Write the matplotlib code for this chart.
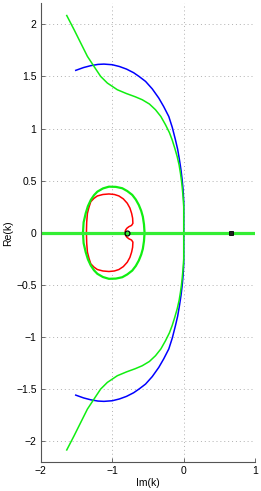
import matplotlib
matplotlib.use("Agg")
import matplotlib.pyplot as plt
import numpy as np

plt.rcParams['font.family'] = ['Liberation Sans', 'DejaVu Sans']

# Upper halves (lower halves are the mirror images, Re -> -Re)
blue_im = [-1.51, -1.40, -1.30, -1.20, -1.116, -1.00, -0.90, -0.80, -0.70, -0.62,
           -0.534, -0.44, -0.349, -0.28, -0.209, -0.16, -0.116, -0.085, -0.06,
           -0.038, -0.022, -0.01, 0.0, 0.0]
blue_re = [1.558, 1.585, 1.603, 1.615, 1.618, 1.612, 1.595, 1.570, 1.535, 1.497,
           1.452, 1.38, 1.292, 1.21, 1.115, 1.01, 0.891, 0.80, 0.70,
           0.60, 0.507, 0.42, 0.30, 0.0]

green_im = [-1.636, -1.534, -1.441, -1.347, -1.255, -1.162, -1.068, -0.929, -0.80,
            -0.68, -0.58, -0.48, -0.395, -0.32, -0.255, -0.20, -0.162, -0.125, -0.092,
            -0.065, -0.046, -0.032, -0.022, -0.01, 0.0, 0.0]
green_re = [2.084, 1.949, 1.821, 1.692, 1.596, 1.500, 1.436, 1.372, 1.335,
            1.305, 1.276, 1.235, 1.18, 1.115, 1.036, 0.96, 0.891, 0.81, 0.731,
            0.65, 0.571, 0.50, 0.44, 0.35, 0.25, 0.0]

gloop_im = [-1.409, -1.40, -1.371, -1.34, -1.30, -1.255, -1.208, -1.13, -1.046,
            -0.95, -0.86, -0.79, -0.72, -0.67, -0.628, -0.595, -0.572, -0.556, -0.548]
gloop_re = [0.0, 0.10, 0.186, 0.255, 0.314, 0.36, 0.394, 0.425, 0.442,
            0.440, 0.427, 0.40, 0.363, 0.318, 0.266, 0.21, 0.154, 0.08, 0.0]

rloop_im = [-1.361, -1.357, -1.347, -1.325, -1.30, -1.255, -1.208, -1.13, -1.046,
            -0.97, -0.907, -0.845, -0.79, -0.753, -0.729, -0.715, -0.711, -0.73,
            -0.767, -0.795, -0.813, -0.823]
rloop_re = [0.0, 0.10, 0.186, 0.245, 0.298, 0.33, 0.353, 0.367, 0.372,
            0.367, 0.353, 0.325, 0.283, 0.237, 0.186, 0.14, 0.09, 0.07,
            0.058, 0.043, 0.026, 0.0]

axis_im = [-2.0, 1.0]
axis_re = [0.0, 0.0]

circle_pt = (-0.80, 0.0)
square_pt = (0.66, 0.0)

xticks = [-2, -1, 0, 1]
yticks = [-2, -1.5, -1, -0.5, 0, 0.5, 1, 1.5, 2]


def both(im, re):
    im = np.asarray(im); re = np.asarray(re)
    return (np.concatenate([im, im[::-1]]), np.concatenate([re, -re[::-1]]))


fig = plt.figure(figsize=(2.61, 4.91), dpi=100)
ax = fig.add_axes([0.156, 0.059, 0.822, 0.934])

lw = 1.1
bx, by = both(blue_im, blue_re)
ax.plot(bx, by, color='#0000ff', lw=lw)
gx, gy = both(green_im, green_re)
ax.plot(gx, gy, color='#11ee11', lw=lw)
rx, ry = both(rloop_im, rloop_re)
ax.plot(rx, ry, color='#ff0000', lw=lw)
lx, ly = both(gloop_im, gloop_re)
ax.plot(lx, ly, color='#11ee11', lw=1.6)
ax.plot(axis_im, axis_re, color='#33ee33', lw=2.3)
ax.plot(*circle_pt, marker='o', ms=3.5, mfc='none', mec='black', mew=0.9)
ax.plot(*square_pt, marker='s', ms=2.8, mfc='#222222', mec='black', mew=0.6)

ax.set_xlim(-2, 1)
ax.set_ylim(-2.2, 2.2)
ax.set_xticks(xticks)
ax.set_yticks(yticks)
ax.set_xticklabels(['\u22122', '\u22121', '0', '1'])
ax.set_yticklabels(['\u22122', '\u22121.5', '\u22121', '\u22120.5', '0', '0.5', '1', '1.5', '2'])
ax.grid(True, linestyle=(0, (1, 3)), color='#b0b0b0', lw=0.7)
for s in ['top', 'right']:
    ax.spines[s].set_visible(False)
for s in ['left', 'bottom']:
    ax.spines[s].set_color('#555555')
    ax.spines[s].set_linewidth(0.8)
ax.tick_params(direction='in', length=3, width=0.6, color='#555555', labelsize=7.5, pad=3)
ax.set_xlabel('Im(k)', fontsize=7.5, labelpad=1)
ax.set_ylabel('Re(k)', fontsize=7.5, labelpad=2)

fig.savefig('out.png', dpi=100)
